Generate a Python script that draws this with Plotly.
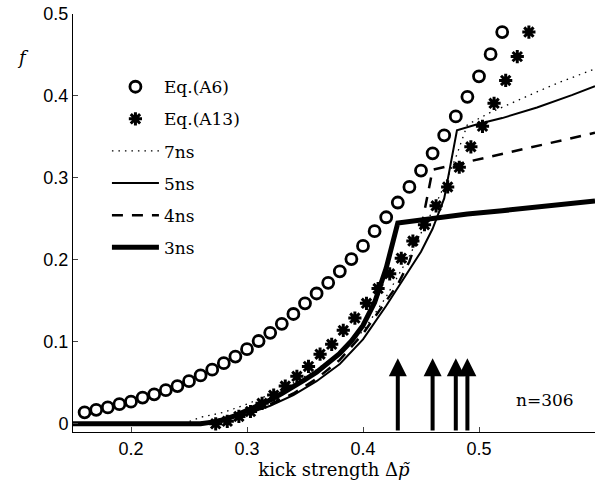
import plotly.graph_objects as go

# ---- data ----
x_a6 = [0.16, 0.17, 0.18, 0.19, 0.20, 0.21, 0.22, 0.23, 0.24, 0.25, 0.26, 0.27, 0.28,
        0.29, 0.30, 0.31, 0.32, 0.33, 0.34, 0.35, 0.36, 0.37, 0.38, 0.39, 0.40, 0.41,
        0.42, 0.43, 0.44, 0.45, 0.46, 0.47, 0.48, 0.49, 0.50, 0.51, 0.52]
f_a6 = [0.014, 0.017, 0.020, 0.024, 0.027, 0.032, 0.036, 0.041, 0.046, 0.052, 0.059,
        0.066, 0.074, 0.082, 0.091, 0.101, 0.111, 0.122, 0.134, 0.147, 0.159, 0.172,
        0.186, 0.201, 0.217, 0.235, 0.252, 0.270, 0.289, 0.309, 0.330, 0.352, 0.375,
        0.399, 0.424, 0.451, 0.478]

x_a13 = [0.273, 0.283, 0.293, 0.303, 0.313, 0.323, 0.333, 0.343, 0.353, 0.363, 0.373,
         0.383, 0.393, 0.403, 0.413, 0.423, 0.433, 0.443, 0.453, 0.463, 0.473, 0.483,
         0.493, 0.503, 0.513, 0.523, 0.533, 0.543]
f_a13 = [0.000, 0.003, 0.009, 0.015, 0.025, 0.035, 0.046, 0.058, 0.070, 0.085, 0.097,
         0.114, 0.129, 0.147, 0.165, 0.183, 0.202, 0.223, 0.243, 0.266, 0.289, 0.313,
         0.338, 0.363, 0.391, 0.419, 0.448, 0.478]

x_7ns = [0.15, 0.245, 0.26, 0.28, 0.30, 0.32, 0.34, 0.36, 0.38, 0.40, 0.42, 0.44, 0.46,
         0.47, 0.48, 0.49, 0.51, 0.53, 0.55, 0.57, 0.60]
f_7ns = [0.0, 0.0, 0.008, 0.014, 0.024, 0.036, 0.050, 0.066, 0.087, 0.113, 0.155, 0.205,
         0.260, 0.290, 0.325, 0.365, 0.380, 0.393, 0.405, 0.417, 0.433]

x_5ns = [0.15, 0.25, 0.26, 0.28, 0.30, 0.32, 0.34, 0.36, 0.38, 0.40, 0.42, 0.44, 0.45,
         0.46, 0.47, 0.481, 0.50, 0.52, 0.55, 0.58, 0.60]
f_5ns = [0.0, 0.0, 0.001, 0.005, 0.012, 0.022, 0.035, 0.052, 0.073, 0.103, 0.144, 0.188,
         0.210, 0.238, 0.275, 0.358, 0.366, 0.373, 0.386, 0.401, 0.412]

x_4ns = [0.15, 0.25, 0.26, 0.28, 0.30, 0.32, 0.34, 0.36, 0.38, 0.40, 0.42, 0.43, 0.44,
         0.45, 0.46, 0.50, 0.55, 0.60]
f_4ns = [0.0, 0.0, 0.001, 0.005, 0.013, 0.024, 0.037, 0.055, 0.078, 0.110, 0.150, 0.170,
         0.198, 0.238, 0.310, 0.323, 0.339, 0.355]

x_3ns = [0.15, 0.26, 0.27, 0.28, 0.29, 0.30, 0.31, 0.32, 0.33, 0.34, 0.35, 0.36, 0.37,
         0.38, 0.39, 0.40, 0.41, 0.42, 0.43, 0.46, 0.49, 0.52, 0.55, 0.58, 0.60]
f_3ns = [0.0, 0.0, 0.002, 0.005, 0.010, 0.016, 0.022, 0.029, 0.037, 0.045, 0.054, 0.063,
         0.074, 0.086, 0.101, 0.120, 0.148, 0.190, 0.245, 0.251, 0.256, 0.260, 0.264,
         0.269, 0.272]

arrow_x = [0.43, 0.46, 0.48, 0.49]
arrow_tip = 0.08
arrow_base = -0.01

x_ticks = [0.2, 0.3, 0.4, 0.5]
y_ticks = [0, 0.1, 0.2, 0.3, 0.4, 0.5]
y_ticklabels = ["0", "0.1", "0.2", "0.3", "0.4", "0.5"]

SERIF = "DejaVu Serif"
SANS = "Liberation Sans"

fig = go.Figure()

fig.add_trace(go.Scatter(x=x_a6, y=f_a6, mode="markers", name="Eq.(A6)", legendgroup="a",
                         marker=dict(symbol="circle-open", size=11, color="black",
                                     line=dict(width=2.8, color="black"))))
fig.add_trace(go.Scatter(x=x_a13, y=f_a13, mode="markers", name="Eq.(A13)", legendgroup="b",
                         marker=dict(symbol="asterisk", size=11, color="black",
                                     line=dict(width=3, color="black"))))
fig.add_trace(go.Scatter(x=x_7ns, y=f_7ns, mode="lines", name="7ns", legendgroup="c",
                         line=dict(color="black", width=1.3, dash="1.5px,5px")))
fig.add_trace(go.Scatter(x=x_5ns, y=f_5ns, mode="lines", name="5ns", legendgroup="d",
                         line=dict(color="black", width=2)))
fig.add_trace(go.Scatter(x=x_4ns, y=f_4ns, mode="lines", name="4ns", legendgroup="e",
                         line=dict(color="black", width=2.5, dash="11px,9px")))
fig.add_trace(go.Scatter(x=x_3ns, y=f_3ns, mode="lines", name="3ns", legendgroup="f",
                         line=dict(color="black", width=5)))

for ax_x in arrow_x:
    fig.add_annotation(x=ax_x, y=arrow_tip, ax=ax_x, ay=arrow_base, xref="x", yref="y",
                       axref="x", ayref="y", text="", showarrow=True, arrowhead=2,
                       arrowsize=0.9, arrowwidth=4, arrowcolor="black")

fig.add_annotation(x=0.557, y=0.029, xref="x", yref="y", text="n=306", showarrow=False,
                   font=dict(family=SERIF, size=17, color="black"))
fig.add_annotation(x=-0.111, y=0.926, xref="paper", yref="paper", text="<i>f</i>",
                   showarrow=False, font=dict(family=SERIF, size=18, color="black"))

fig.update_layout(
    width=595, height=480,
    margin=dict(l=73, r=0, t=14, b=48),
    paper_bgcolor="white", plot_bgcolor="white",
    showlegend=True,
    legend=dict(x=0.065, y=0.868, xanchor="left", yanchor="top", bgcolor="rgba(0,0,0,0)",
                font=dict(family=SERIF, size=17, color="black"),
                traceorder="grouped", tracegroupgap=7, itemwidth=47),
    xaxis=dict(range=[0.15, 0.6], tickvals=x_ticks, ticks="inside", ticklen=5,
               showline=True, linecolor="black", linewidth=1, showgrid=False, zeroline=False,
               tickfont=dict(family=SANS, size=18, color="black"),
               title=dict(text="kick strength Δ<i>p̃</i>", standoff=0,
                          font=dict(family=SERIF, size=18, color="black"))),
    yaxis=dict(range=[-0.01, 0.5], tickvals=y_ticks, ticktext=y_ticklabels, ticks="inside",
               ticklen=5, showline=True, linecolor="black", linewidth=1, showgrid=False,
               zeroline=False, tickfont=dict(family=SANS, size=18, color="black")),
)

fig.write_html("out.html")
